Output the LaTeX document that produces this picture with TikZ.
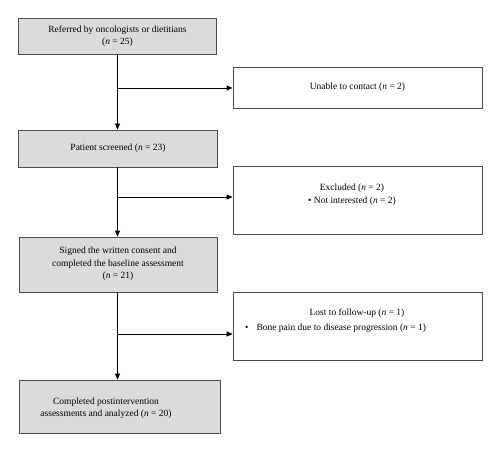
\documentclass[tikz,border=0pt]{standalone}
\usepackage{fontspec}
\setmainfont{Liberation Serif}
\usetikzlibrary{arrows.meta}
\begin{document}
\begin{tikzpicture}[x=1pt,y=-1pt,
  graybox/.style={draw=black!70,fill=black!14,line width=0.8pt,inner sep=0pt},
  whitebox/.style={draw=black!70,fill=white,line width=0.8pt,inner sep=0pt},
  txt/.style={font=\fontsize{9.5}{12.5}\selectfont,align=center,inner sep=0pt},
  flow/.style={draw=black,line width=1pt,-{Triangle[length=6pt,width=5pt]}}]
\useasboundingbox (0,0) rectangle (500,452);
% left column
\node[graybox,minimum width=198pt,minimum height=36pt] (b1) at (117.5,36) {};
\node[txt] (t1) at (117.5,36) {Referred by oncologists or dietitians\\(\textit{n} = 25)};
\node[graybox,minimum width=199pt,minimum height=37pt] (b2) at (118,148.5) {};
\node[txt] (t2) at (118,148.5) {Patient screened (\textit{n} = 23)};
\node[graybox,minimum width=198pt,minimum height=55pt] (b3) at (118,264.5) {};
\node[txt] (t3) at (118,264) {Signed the written consent and\\completed the baseline assessment\\(\textit{n} = 21)};
\node[graybox,minimum width=201pt,minimum height=53pt] (b4) at (119.5,406.5) {};
\node[txt] (t4) at (106,408) {Completed postintervention\\assessments and analyzed (\textit{n} = 20)};
% right column
\node[whitebox,minimum width=249pt,minimum height=41pt] (r1) at (357.5,87.5) {};
\node[txt] (u1) at (357.5,87.5) {Unable to contact (\textit{n} = 2)};
\node[whitebox,minimum width=249pt,minimum height=68pt] (r2) at (357.5,200) {};
\node[txt] (u2) at (352,194.5) {Excluded (\textit{n} = 2)\\\textbullet\ Not interested (\textit{n} = 2)};
\node[whitebox,minimum width=249pt,minimum height=68pt] (r3) at (357.5,326) {};
\node[txt] (u3) at (357,313) {Lost to follow-up (\textit{n} = 1)};
\node[txt,anchor=west] (u3b) at (245,328) {\textbullet\hspace{8pt}Bone pain due to disease progression (\textit{n} = 1)};
% connectors
\coordinate (c1) at (117.5,88);
\coordinate (c2) at (117.5,197);
\coordinate (c3) at (117.5,334);
\draw[flow] (b1.south) -- (b2.north -| b1.south);
\draw[flow] (b2.south -| b1.south) -- (b3.north -| b1.south);
\draw[flow] (b3.south -| b1.south) -- (b4.north -| b1.south);
\draw[flow] (c1) -- (c1 -| r1.west);
\draw[flow] (c2) -- (c2 -| r2.west);
\draw[flow] (c3) -- (c3 -| r3.west);
\end{tikzpicture}
\end{document}
